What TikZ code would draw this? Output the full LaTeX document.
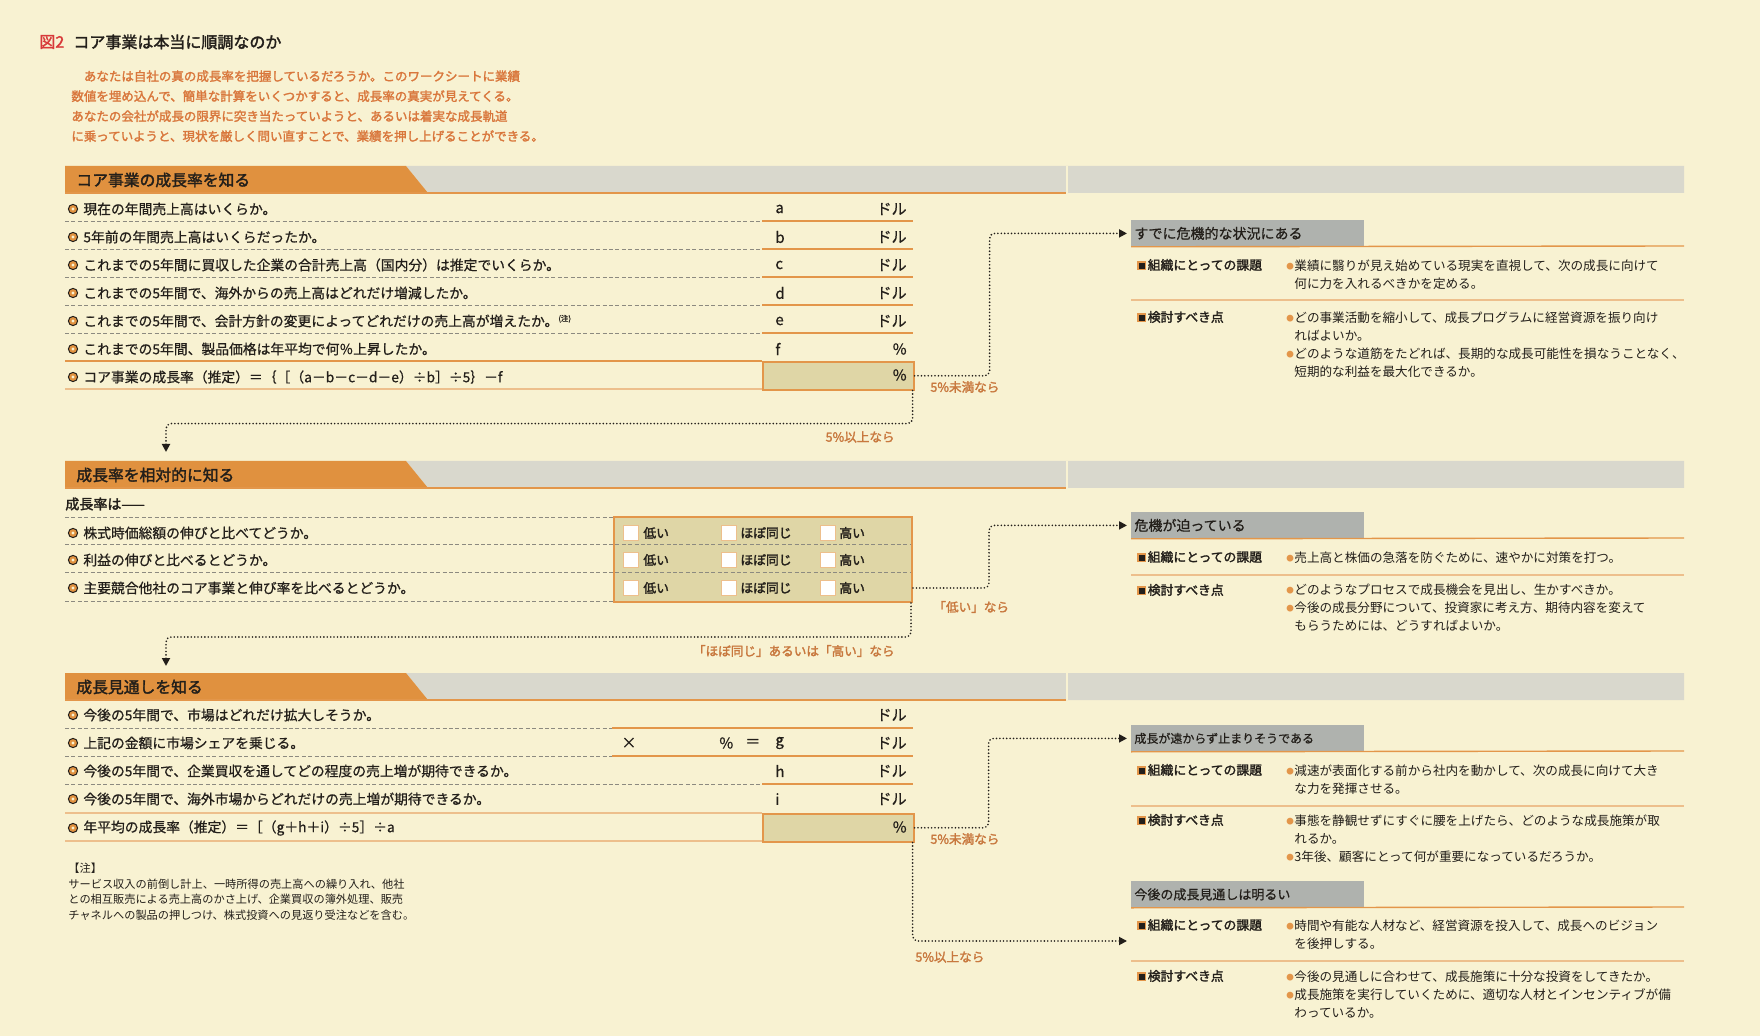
\documentclass[tikz,border=0pt]{standalone}
\usepackage{fontspec}
\setmainfont{Noto Sans CJK JP}[AutoFakeBold=2]
\newfontfamily\medface{Noto Sans CJK JP}[FakeBold=0.7]
\usetikzlibrary{positioning,arrows.meta}
\definecolor{PageCream}{HTML}{F8F2D2}
\definecolor{HeadOrange}{HTML}{E0913F}
\definecolor{BarGray}{HTML}{D9D8CD}
\definecolor{BoxGray}{HTML}{AFB2AE}
\definecolor{FillKhaki}{HTML}{DFD6A6}
\definecolor{RuleOrange}{HTML}{E3964A}
\definecolor{PaleOrange}{HTML}{EDBF8C}
\definecolor{IntroOrange}{HTML}{D9773C}
\definecolor{NoteBrown}{HTML}{C8783E}
\definecolor{FigRed}{HTML}{D83A3A}
\definecolor{DashGray}{HTML}{8C8A80}
\definecolor{InkBlack}{HTML}{231F1A}
\newcommand\fsTitle{\fontsize{8pt}{9pt}\selectfont\bfseries}
\newcommand\fsIntro{\fontsize{6.25pt}{10pt}\selectfont\bfseries}
\newcommand\fsHead{\fontsize{7.9pt}{9pt}\selectfont\bfseries}
\newcommand\fsRow{\medface\fontsize{6.9pt}{8pt}\selectfont}
\newcommand\fsVal{\medface\fontsize{7.5pt}{8pt}\selectfont}
\newcommand\fsLabel{\fontsize{6.3pt}{8pt}\selectfont\bfseries}
\newcommand\fsCrit{\medface\fontsize{7pt}{8pt}\selectfont}
\newcommand\fsKey{\fontsize{6.4pt}{8pt}\selectfont\bfseries}
\newcommand\fsBox{\fontsize{6.3pt}{9pt}\selectfont}
\newcommand\fsNote{\fontsize{5.6pt}{7.7pt}\selectfont}
\newcommand\keysq{{\setlength\fboxsep{0pt}\setlength\fboxrule{0.6pt}\raisebox{0.6pt}{\fcolorbox{RuleOrange}{InkBlack}{\textcolor{InkBlack}{\rule{3pt}{3pt}}}}\hspace{1pt}}}
\newcommand\ptbul{\makebox[4pt][l]{\textcolor{RuleOrange}{\raisebox{0.5pt}{\scalebox{0.6}{●}}}}}
\newcommand\ptgap{\hspace*{4pt}}

\begin{document}
\begin{tikzpicture}[x=0.5pt,y=-0.5pt,
  every node/.style={inner sep=0pt,text=InkBlack},
  rowtext/.style={anchor=west,font=\fsRow},
  ring/.style={circle,minimum size=4.6pt,fill=HeadOrange,draw=InkBlack,line width=0.5pt,
    path picture={\fill[PageCream] (path picture bounding box.center) circle (0.8pt);}},
  sechead/.style={anchor=west,font=\fsHead},
  letter/.style={anchor=west,font=\fsVal},
  unit/.style={anchor=east,font=\fsVal},
  resbox/.style={anchor=north west,draw=RuleOrange,line width=0.8pt,fill=FillKhaki,
    minimum width=75.5pt,minimum height=14pt},
  ratebox/.style={anchor=north west,draw=RuleOrange,line width=1pt,fill=FillKhaki,
    minimum width=149pt,minimum height=42.5pt},
  chk/.style={anchor=west,draw=PaleOrange,fill=white,line width=0.5pt,minimum size=7.5pt},
  choice/.style={anchor=west,font=\fsKey},
  dashrule/.style={DashGray,dash pattern=on 2pt off 1.2pt,line width=0.4pt},
  valrule/.style={RuleOrange,line width=0.7pt},
  palerule/.style={PaleOrange,line width=0.6pt},
  crithead/.style={anchor=north west,fill=BoxGray,minimum height=13pt,text width=113.5pt,
    inner xsep=1.5pt,align=left,font=\fsCrit},
  keynode/.style={anchor=west,font=\fsKey},
  pts/.style={anchor=north west,align=left,font=\fsBox},
  lbl/.style={font=\fsLabel,text=NoteBrown},
  flow/.style={InkBlack,line width=0.9pt,dash pattern=on 0pt off 1.7pt,line cap=round,
    rounded corners=2.5pt,-{Triangle[length=4pt,width=4pt]}}]
\useasboundingbox (0,0) rectangle (1760,1036);
\fill[PageCream] (0,0) rectangle (1760,1036);

% title and lead text
\node[anchor=west,font=\fsTitle] (figno) at (39,42) {\textcolor{FigRed}{図2}};
\node[anchor=west,font=\fsTitle] (title) at (73,42) {コア事業は本当に順調なのか};
\node[anchor=north west,font=\fsIntro,text=IntroOrange,align=left] (intro) at (71,70)
  {\hspace*{1em}あなたは自社の真の成長率を把握しているだろうか。このワークシートに業績\\
   数値を埋め込んで、簡単な計算をいくつかすると、成長率の真実が見えてくる。\\
   あなたの会社が成長の限界に突き当たっていようと、あるいは着実な成長軌道\\
   に乗っていようと、現状を厳しく問い直すことで、業績を押し上げることができる。};

% section bars
\foreach \hy/\hn/\hs in {166/hdone/{コア事業の成長率を知る},461/hdtwo/{成長率を相対的に知る},673/hdthree/{成長見通しを知る}}{
  \fill[BarGray] (406,\hy) -- (1684,\hy) -- (1684,\hy+27) -- (428,\hy+27) -- cycle;
  \fill[HeadOrange] (65,\hy) -- (406,\hy) -- (428,\hy+27) -- (65,\hy+27) -- cycle;
  \draw[PageCream,line width=0.6pt] (1067,\hy) -- (1067,\hy+27);
  \draw[valrule] (65,\hy+27) -- (1066,\hy+27);
  \node[sechead] (\hn) at (76,\hy+14) {\hs};
}

% --- core growth rate
\foreach \ry in {221,249,277,305,333}{
  \draw[dashrule] (65,\ry) -- (762,\ry);
  \draw[valrule] (762,\ry) -- (913,\ry);
}
\draw[valrule] (65,361) -- (762,361);
\draw[palerule] (65,389) -- (762,389);
\node[rowtext] (q1a) at (83,209) {現在の年間売上高はいくらか。};
\node[rowtext] (q1b) at (83,237) {5年前の年間売上高はいくらだったか。};
\node[rowtext] (q1c) at (83,265) {これまでの5年間に買収した企業の合計売上高（国内分）は推定でいくらか。};
\node[rowtext] (q1d) at (83,293) {これまでの5年間で、海外からの売上高はどれだけ増減したか。};
\node[rowtext] (q1e) at (83,321) {これまでの5年間で、会計方針の変更によってどれだけの売上高が増えたか。\raisebox{2.5pt}{\fontsize{3.8pt}{4pt}\selectfont (注)}};
\node[rowtext] (q1f) at (83,349) {これまでの5年間、製品価格は年平均で何％上昇したか。};
\node[rowtext] (q1g) at (83,377) {コア事業の成長率（推定）＝｛［（a－b－c－d－e）÷b］÷5｝－f};
\foreach \ry/\v in {209/a,237/b,265/c,293/d,321/e,349/f}
  \node[letter] (v\v) at (775,\ry) {\v};
\foreach \ry/\u [count=\i] in {209/ドル,237/ドル,265/ドル,293/ドル,321/ドル,349/\%}
  \node[unit] (u1\i) at (907,\ry) {\u};
\node[resbox] (res1) at (762,361) {};
\node[unit] (pct1) at (907,375) {\%};

% --- relative growth
\node[anchor=west,font=\fontsize{7pt}{8pt}\selectfont\bfseries] (lead2) at (65,504) {成長率は——};
\draw[dashrule] (65,517) -- (613,517);
\draw[dashrule] (65,601) -- (613,601);
\node[ratebox] (rate) at (613,516) {};
\foreach \ry in {544,572}
  \draw[dashrule] (65,\ry) -- (911,\ry);
\node[rowtext] (q2a) at (83,533) {株式時価総額の伸びと比べてどうか。};
\node[rowtext] (q2b) at (83,560) {利益の伸びと比べるとどうか。};
\node[rowtext] (q2c) at (83,588) {主要競合他社のコア事業と伸び率を比べるとどうか。};
\foreach \ry [count=\r] in {533,560,588}{
  \node[chk] (lo\r) at (623,\ry) {};
  \node[choice] (lot\r) at (643,\ry) {低い};
  \node[chk] (eq\r) at (721,\ry) {};
  \node[choice] (eqt\r) at (740,\ry) {ほぼ同じ};
  \node[chk] (hi\r) at (820,\ry) {};
  \node[choice] (hit\r) at (839,\ry) {高い};
}

% --- growth outlook
\foreach \ry/\rx in {728/612,756/612,784/762}{
  \draw[dashrule] (65,\ry) -- (\rx,\ry);
  \draw[valrule] (\rx,\ry) -- (913,\ry);
}
\draw[palerule] (65,813) -- (762,813);
\draw[palerule] (65,841) -- (762,841);
\node[rowtext] (q3a) at (83,715) {今後の5年間で、市場はどれだけ拡大しそうか。};
\node[rowtext] (q3b) at (83,743) {上記の金額に市場シェアを乗じる。};
\node[rowtext] (q3c) at (83,771) {今後の5年間で、企業買収を通してどの程度の売上増が期待できるか。};
\node[rowtext] (q3d) at (83,799) {今後の5年間で、海外市場からどれだけの売上増が期待できるか。};
\node[rowtext] (q3e) at (83,828) {年平均の成長率（推定）＝［（g＋h＋i）÷5］÷a};
\node[letter] (times) at (621,743) {×};
\node[letter] (share) at (719,743) {\%};
\node[letter] (equals) at (745,743) {＝};
\foreach \ry/\v in {743/g,771/h,799/i}
  \node[letter] (v\v) at (775,\ry) {\v};
\foreach \ry [count=\i] in {715,743,771,799}
  \node[unit] (u3\i) at (907,\ry) {ドル};
\node[resbox] (res3) at (762,813) {};
\node[unit] (pct3) at (907,827) {\%};

\foreach \ry [count=\i] in {209,237,265,293,321,349,377,533,560,588,715,743,771,799,828}
  \node[ring] (dot\i) at (73,\ry) {};

% note
\node[anchor=north west,font=\fsNote,align=left] (note) at (68,863)
  {【注】\\
   サービス収入の前倒し計上、一時所得の売上高への繰り入れ、他社\\
   との相互販売による売上高のかさ上げ、企業買収の簿外処理、販売\\
   チャネルへの製品の押しつけ、株式投資への見返り受注などを含む。};

% --- verdict boxes
\node[crithead] (crit1) at (1131,220) {すでに危機的な状況にある};
\draw[valrule] (crit1.south west) -- (1684,246);
\node[keynode] (task1) at (1137,265) {\keysq 組織にとっての課題};
\node[pts] (task1t) at (1286,259) {\ptbul 業績に翳りが見え始めている現実を直視して、次の成長に向けて\\
  \ptgap 何に力を入れるべきかを定める。};
\draw[palerule] (1131,300) -- (1684,300);
\node[keynode] (check1) at (1137,317) {\keysq 検討すべき点};
\node[pts] (check1t) at (1286,311) {\ptbul どの事業活動を縮小して、成長プログラムに経営資源を振り向け\\
  \ptgap ればよいか。\\
  \ptbul どのような道筋をたどれば、長期的な成長可能性を損なうことなく、\\
  \ptgap 短期的な利益を最大化できるか。};

\node[crithead] (crit2) at (1131,512) {危機が迫っている};
\draw[valrule] (crit2.south west) -- (1684,538);
\node[keynode] (task2) at (1137,557) {\keysq 組織にとっての課題};
\node[pts] (task2t) at (1286,551) {\ptbul 売上高と株価の急落を防ぐために、速やかに対策を打つ。};
\draw[palerule] (1131,575) -- (1684,575);
\node[keynode] (check2) at (1137,590) {\keysq 検討すべき点};
\node[pts] (check2t) at (1286,584) {\ptbul どのようなプロセスで成長機会を見出し、生かすべきか。\\
  \ptbul 今後の成長分野について、投資家に考え方、期待内容を変えて\\
  \ptgap もらうためには、どうすればよいか。};

\node[crithead,font=\medface\fontsize{6pt}{7pt}\selectfont] (crit3) at (1131,725) {成長が遠からず止まりそうである};
\draw[valrule] (crit3.south west) -- (1684,751);
\node[keynode] (task3) at (1137,770) {\keysq 組織にとっての課題};
\node[pts] (task3t) at (1286,764) {\ptbul 減速が表面化する前から社内を動かして、次の成長に向けて大き\\
  \ptgap な力を発揮させる。};
\draw[palerule] (1131,806) -- (1684,806);
\node[keynode] (check3) at (1137,820) {\keysq 検討すべき点};
\node[pts] (check3t) at (1286,814) {\ptbul 事態を静観せずにすぐに腰を上げたら、どのような成長施策が取\\
  \ptgap れるか。\\
  \ptbul 3年後、顧客にとって何が重要になっているだろうか。};

\node[crithead,font=\medface\fontsize{6.5pt}{7pt}\selectfont] (crit4) at (1131,881) {今後の成長見通しは明るい};
\draw[valrule] (crit4.south west) -- (1684,907);
\node[keynode] (task4) at (1137,925) {\keysq 組織にとっての課題};
\node[pts] (task4t) at (1286,919) {\ptbul 時間や有能な人材など、経営資源を投入して、成長へのビジョン\\
  \ptgap を後押しする。};
\draw[palerule] (1131,961) -- (1684,961);
\node[keynode] (check4) at (1137,976) {\keysq 検討すべき点};
\node[pts] (check4t) at (1286,970) {\ptbul 今後の見通しに合わせて、成長施策に十分な投資をしてきたか。\\
  \ptbul 成長施策を実行していくために、適切な人材とインセンティブが備\\
  \ptgap わっているか。};

% dotted decision paths
\coordinate (in2) at (166,452);
\coordinate (in3) at (166,666);
\coordinate (in4) at (1127,941);
\draw[flow,shorten >=2pt] (res1.east) -- ++(75,0) |- (crit1.west);
\draw[flow] ([xshift=-1pt]res1.south east) -- ++(0,33) -| (in2);
\draw[flow,shorten >=2pt] (rate.east |- q2c.west) -- ++(76,0) |- (crit2.west);
\draw[flow] ([xshift=-1pt]rate.south east) -- ++(0,34) -| (in3);
\draw[flow,shorten >=2pt] (res3.east) -- ++(74,0) |- (crit3.west);
\draw[flow] ([xshift=-1pt]res3.south east) |- (in4);
\node[lbl,anchor=west] (lt1) at (930,387) {5\%未満なら};
\node[lbl,anchor=east] (ge1) at (895,437) {5\%以上なら};
\node[lbl,anchor=west] (lt2) at (933,607) {「低い」なら};
\node[lbl,anchor=east] (ge2) at (895,651) {「ほぼ同じ」あるいは「高い」なら};
\node[lbl,anchor=west] (lt3) at (930,839) {5\%未満なら};
\node[lbl,anchor=west] (ge3) at (915,957) {5\%以上なら};
\end{tikzpicture}
\end{document}
